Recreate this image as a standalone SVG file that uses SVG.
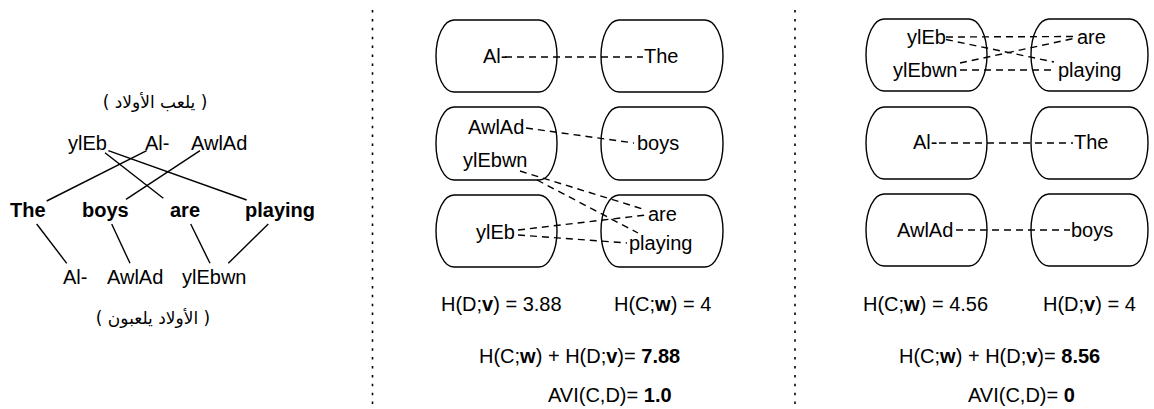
<svg xmlns="http://www.w3.org/2000/svg" width="1154" height="409" viewBox="0 0 1154 409">
  <style>
    text { font-family: "Liberation Sans", Arial, sans-serif; font-size: 20px; fill: #000; }
    .b { font-weight: bold; }
    .ar { font-family: "DejaVu Sans", "Noto Sans", sans-serif; font-size: 17px; }
    .box { fill: none; stroke: #000; stroke-width: 1.4; }
    .solid { stroke: #000; stroke-width: 1.4; fill: none; }
    .dash { stroke: #000; stroke-width: 1.4; fill: none; stroke-dasharray: 7 5; }
    .sep { stroke: #000; stroke-width: 1.6; stroke-dasharray: 2.5 6.4; }
  </style>

  <!-- panel separators -->
  <g id="separators">
    <line class="sep" x1="372.5" y1="10" x2="372.5" y2="408"/>
    <line class="sep" x1="795" y1="10" x2="795" y2="408"/>
  </g>

  <!-- word alignment between the two Arabic sentences and English -->
  <g id="alignment-tree">
    <text class="ar" x="155" y="108" text-anchor="middle">( يلعب الأولاد )</text>
    <text x="68" y="150">ylEb</text>
    <text x="145" y="150">Al-</text>
    <text x="191" y="150">AwlAd</text>
    <text class="b" x="10" y="217">The</text>
    <text class="b" x="82" y="217">boys</text>
    <text class="b" x="170" y="217">are</text>
    <text class="b" x="245" y="217">playing</text>
    <text x="63" y="284">Al-</text>
    <text x="107" y="284">AwlAd</text>
    <text x="182" y="284">ylEbwn</text>
    <text class="ar" x="153" y="324" text-anchor="middle">( الأولاد يلعبون )</text>
    <g id="tree-links">
      <line class="solid" x1="105" y1="152.7" x2="163.3" y2="198.3"/>
      <line class="solid" x1="108.3" y1="150.7" x2="246.7" y2="200"/>
      <line class="solid" x1="146.7" y1="150.7" x2="46.7" y2="201"/>
      <line class="solid" x1="200" y1="150.7" x2="126" y2="199.3"/>
      <line class="solid" x1="36.7" y1="224" x2="66.7" y2="263.3"/>
      <line class="solid" x1="111.7" y1="224" x2="130" y2="263.3"/>
      <line class="solid" x1="190.7" y1="224" x2="210" y2="263.3"/>
      <line class="solid" x1="268.3" y1="224" x2="228.3" y2="263.3"/>
    </g>
  </g>

  <!-- middle clustering -->
  <g id="mid-d1"><rect class="box" x="436" y="20" width="121" height="72" rx="18" ry="36"/><text x="483" y="63">Al-</text></g>
  <g id="mid-d2"><rect class="box" x="436" y="107" width="121" height="73" rx="18" ry="36"/><text x="468" y="134">AwlAd</text><text x="463" y="167">ylEbwn</text></g>
  <g id="mid-d3"><rect class="box" x="436" y="195" width="121" height="72" rx="18" ry="36"/><text x="476" y="239">ylEb</text></g>
  <g id="mid-c1"><rect class="box" x="601" y="20" width="122" height="72" rx="18" ry="36"/><text x="644" y="63">The</text></g>
  <g id="mid-c2"><rect class="box" x="601" y="107" width="122" height="73" rx="18" ry="36"/><text x="637" y="150">boys</text></g>
  <g id="mid-c3"><rect class="box" x="601" y="195" width="122" height="72" rx="18" ry="36"/><text x="648" y="221">are</text><text x="629" y="250">playing</text></g>
  <g id="mid-links">
    <line class="dash" x1="505" y1="57" x2="643" y2="57"/>
    <line class="dash" x1="526" y1="128" x2="634" y2="143"/>
    <line class="dash" x1="520" y1="171" x2="646" y2="210"/>
    <line class="dash" x1="537" y1="180" x2="638" y2="233"/>
    <line class="dash" x1="518" y1="230" x2="646" y2="215"/>
    <line class="dash" x1="518" y1="235" x2="627" y2="243"/>
  </g>
  <g id="mid-scores">
    <text x="441" y="311">H(D;<tspan class="b">v</tspan>) = 3.88</text>
    <text x="614" y="311">H(C;<tspan class="b">w</tspan>) = 4</text>
    <text x="479" y="363">H(C;<tspan class="b">w</tspan>) + H(D;<tspan class="b">v</tspan>)= <tspan class="b">7.88</tspan></text>
    <text x="548" y="402">AVI(C,D)= <tspan class="b">1.0</tspan></text>
  </g>

  <!-- right clustering -->
  <g id="right-d1"><rect class="box" x="866" y="19" width="121" height="72" rx="18" ry="36"/><text x="907" y="43.5">ylEb</text><text x="893" y="76.5">ylEbwn</text></g>
  <g id="right-d2"><rect class="box" x="866" y="107" width="121" height="72" rx="18" ry="36"/><text x="913" y="149">Al-</text></g>
  <g id="right-d3"><rect class="box" x="866" y="194" width="121" height="72" rx="18" ry="36"/><text x="897" y="236.5">AwlAd</text></g>
  <g id="right-c1"><rect class="box" x="1031" y="19" width="117" height="72" rx="18" ry="36"/><text x="1077" y="44">are</text><text x="1058" y="77">playing</text></g>
  <g id="right-c2"><rect class="box" x="1031" y="107" width="117" height="72" rx="18" ry="36"/><text x="1074" y="149">The</text></g>
  <g id="right-c3"><rect class="box" x="1031" y="194" width="117" height="72" rx="18" ry="36"/><text x="1071" y="236.5">boys</text></g>
  <g id="right-links">
    <line class="dash" x1="946" y1="37" x2="1076" y2="36.5"/>
    <line class="dash" x1="946" y1="39.5" x2="1054" y2="62"/>
    <line class="dash" x1="960" y1="63" x2="1076" y2="38"/>
    <line class="dash" x1="960" y1="70" x2="1056" y2="70"/>
    <line class="dash" x1="939" y1="143" x2="1073" y2="143"/>
    <line class="dash" x1="956" y1="230" x2="1070" y2="230"/>
  </g>
  <g id="right-scores">
    <text x="863" y="311">H(C;<tspan class="b">w</tspan>) = 4.56</text>
    <text x="1043" y="311">H(D;<tspan class="b">v</tspan>) = 4</text>
    <text x="899" y="363">H(C;<tspan class="b">w</tspan>) + H(D;<tspan class="b">v</tspan>)= <tspan class="b">8.56</tspan></text>
    <text x="968" y="402">AVI(C,D)= <tspan class="b">0</tspan></text>
  </g>
</svg>
